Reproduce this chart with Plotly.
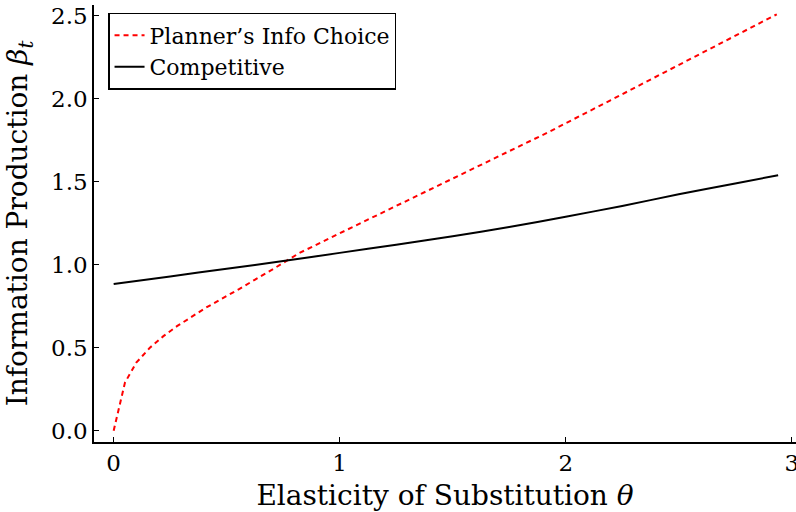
import plotly.graph_objects as go

theta_planner = [0.0, 0.05, 0.1, 0.16, 0.22, 0.28, 0.41, 0.555, 0.717, 0.82, 1.0, 1.25, 1.48, 1.7, 1.92, 2.2, 2.45, 2.7, 2.934]
beta_planner = [0.0, 0.29, 0.41, 0.50, 0.57, 0.63, 0.743, 0.854, 0.984, 1.07, 1.19, 1.354, 1.506, 1.651, 1.797, 1.993, 2.169, 2.345, 2.51]

theta_comp = [0.0, 0.25, 0.5, 0.75, 1.0, 1.25, 1.5, 1.75, 2.0, 2.25, 2.5, 2.75, 2.94]
beta_comp = [0.884, 0.93, 0.976, 1.023, 1.072, 1.121, 1.172, 1.228, 1.29, 1.355, 1.425, 1.49, 1.54]

x_ticks = [0, 1, 2, 3]
y_ticks = [0.0, 0.5, 1.0, 1.5, 2.0, 2.5]
y_tick_labels = ["0.0", "0.5", "1.0", "1.5", "2.0", "2.5"]

font_family = "DejaVu Serif"

fig = go.Figure()
fig.add_trace(go.Scatter(x=theta_planner, y=beta_planner, mode="lines",
                         name="Planner\u2019s Info Choice",
                         line=dict(color="red", width=2, dash="5px,4px")))
fig.add_trace(go.Scatter(x=theta_comp, y=beta_comp, mode="lines",
                         name="Competitive",
                         line=dict(color="black", width=2, shape="spline", smoothing=0.8)))

fig.update_layout(
    width=796, height=512,
    margin=dict(l=94, r=0, t=5, b=70),
    plot_bgcolor="white", paper_bgcolor="white",
    font=dict(family=font_family, size=22, color="black"),
    showlegend=True,
    legend=dict(x=0.02, y=0.982, xanchor="left", yanchor="top",
                bgcolor="white", bordercolor="black", borderwidth=1.5,
                font=dict(size=22, family=font_family),
                tracegroupgap=0, itemwidth=30),
    xaxis=dict(range=[-0.087, 3.019], tickvals=x_ticks, ticktext=[str(v) for v in x_ticks],
               showgrid=False, zeroline=False, showline=True, linecolor="black", linewidth=1.5,
               ticks="inside", ticklen=5, tickcolor="black", tickwidth=1,
               tickfont=dict(size=23), automargin=False, ticklabeloverflow="allow",
               title=dict(text="Elasticity of Substitution <i>θ</i>", font=dict(size=28))),
    yaxis=dict(range=[-0.068, 2.566], tickvals=y_ticks, ticktext=y_tick_labels,
               showgrid=False, zeroline=False, showline=True, linecolor="black", linewidth=1.5,
               ticks="inside", ticklen=5, tickcolor="black", tickwidth=1,
               tickfont=dict(size=23), automargin=False,
               title=dict(text="Information Production <i>β<sub>t</sub></i>", font=dict(size=28))),
)

fig.write_html("out.html", config={"displayModeBar": False},
               post_script="document.body.style.margin='0';document.body.style.padding='0';")
